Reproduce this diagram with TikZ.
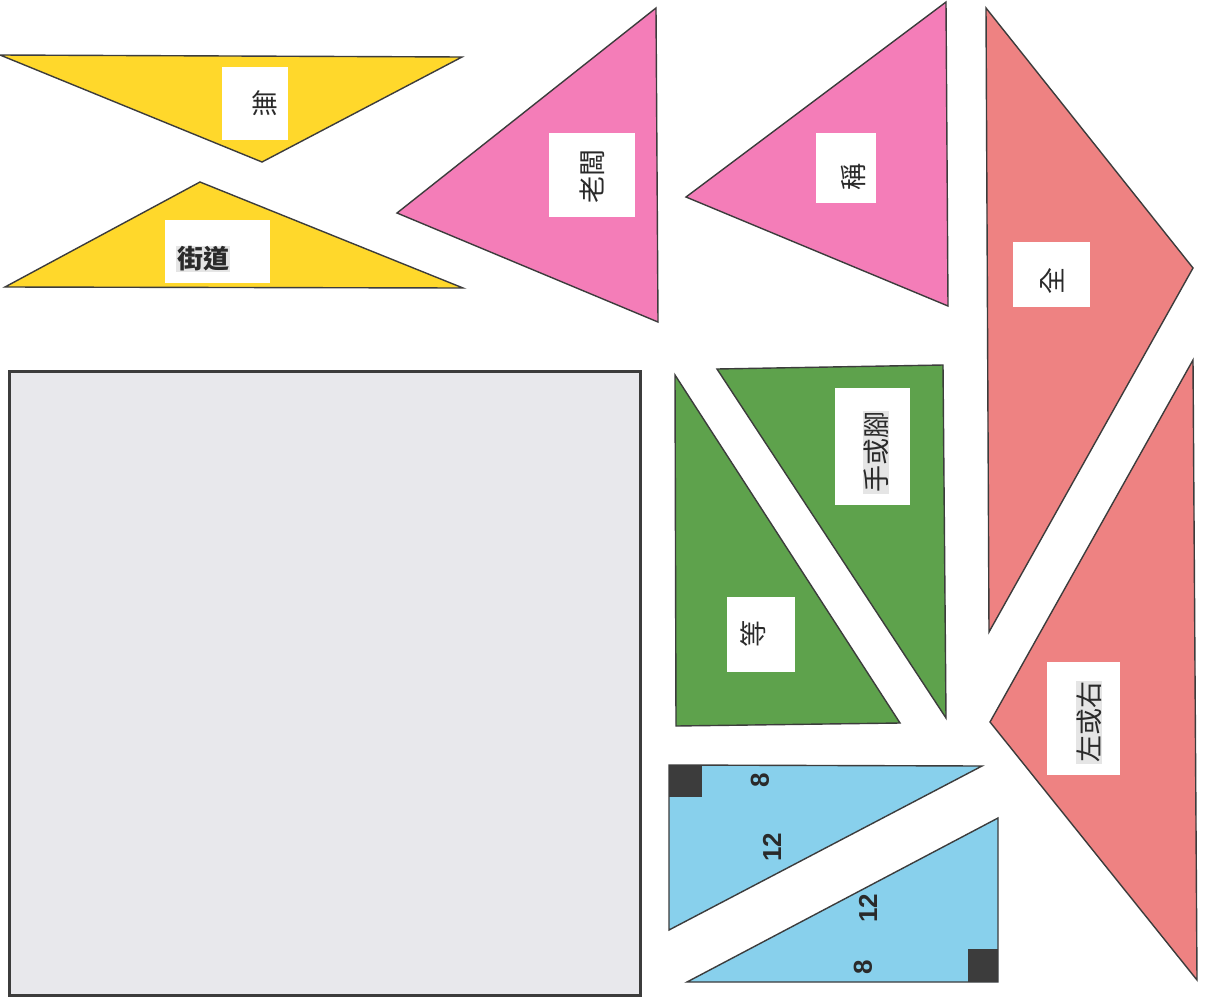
\documentclass[tikz,border=0pt]{standalone}
\usepackage{fontspec}
\newfontfamily\cjk{Noto Sans CJK TC}
\setsansfont{Liberation Sans}
\definecolor{yel}{HTML}{FFD82B}
\definecolor{pnk}{HTML}{F47DB8}
\definecolor{sal}{HTML}{EE8282}
\definecolor{grn}{HTML}{5EA24C}
\definecolor{blu}{HTML}{88D0EC}
\definecolor{sqr}{HTML}{E8E8EC}
\definecolor{edge}{HTML}{3C3C3C}
\definecolor{ink}{HTML}{2A2A2A}
\begin{document}
\begin{tikzpicture}[x=1pt,y=-1pt,
  piece/.style={draw=edge,line width=1.4pt,line join=miter},
  tag/.style={fill=white,draw=none},
  word/.style={font=\cjk\fontsize{27}{27}\selectfont,inner sep=1pt,text=ink},
  hl/.style={fill=black!10},
  num/.style={font=\sffamily\bfseries\fontsize{26}{26}\selectfont,inner sep=0pt,rotate=90,text=ink}]
\useasboundingbox (0,0) rectangle (1208,1002);
\fill[white] (0,0) rectangle (1208,1002);

% yellow
\filldraw[piece,fill=yel] (0,55) -- (462,57) -- (262,162) -- cycle;
\filldraw[piece,fill=yel] (5,287) -- (200,182) -- (463,288) -- cycle;
\fill[tag] (222,67) rectangle (288,140);
\node[word] (wu) at (265,103) {無};
\fill[tag] (165,220) rectangle (270,283);
\node[word,hl,font=\cjk\bfseries\fontsize{26}{26}\selectfont] (jiedao) at (203,259) {街道};

% pink
\filldraw[piece,fill=pnk] (397,213) -- (656,8) -- (658,322) -- cycle;
\fill[tag] (549,133) rectangle (635,217);
\node[word,rotate=90] (laoban) at (592,176) {老闆};
\filldraw[piece,fill=pnk] (686,197) -- (946,2) -- (948,306) -- cycle;
\fill[tag] (816,133) rectangle (876,203);
\node[word,rotate=90] (cheng) at (853,177) {稱};

% salmon
\filldraw[piece,fill=sal] (986,8) -- (1193,268) -- (989,632) -- cycle;
\fill[tag] (1013,242) rectangle (1090,307);
\node[word,rotate=90] (quan) at (1052,281) {全};
\filldraw[piece,fill=sal] (990,722) -- (1193,360) -- (1197,980) -- cycle;
\fill[tag] (1047,662) rectangle (1120,775);
\node[word,hl,rotate=90] (zuohuoyou) at (1089,722) {左或右};

% green
\filldraw[piece,fill=grn] (717,369) -- (943,365) -- (946,718) -- cycle;
\fill[tag] (835,388) rectangle (910,505);
\node[word,hl,rotate=90] (shouhuojiao) at (876,452) {手或腳};
\filldraw[piece,fill=grn] (675,375) -- (676,726) -- (900,723) -- cycle;
\fill[tag] (727,597) rectangle (795,672);
\node[word,rotate=90] (deng) at (753,634) {等};

% square
\filldraw[draw=edge,line width=3pt,fill=sqr] (9,371) rectangle (640,995);

% blue
\filldraw[piece,fill=blu] (669,765) -- (982,766) -- (669,930) -- cycle;
\fill[edge] (669,765) rectangle (702,797);
\node[num] (a8) at (760,780) {8};
\node[num] (a12) at (772,847) {12};
\filldraw[piece,fill=blu] (687,982) -- (998,818) -- (998,982) -- cycle;
\fill[edge] (968,949) rectangle (998,982);
\node[num] (b12) at (868,908) {12};
\node[num] (b8) at (863,967) {8};
\end{tikzpicture}
\end{document}
